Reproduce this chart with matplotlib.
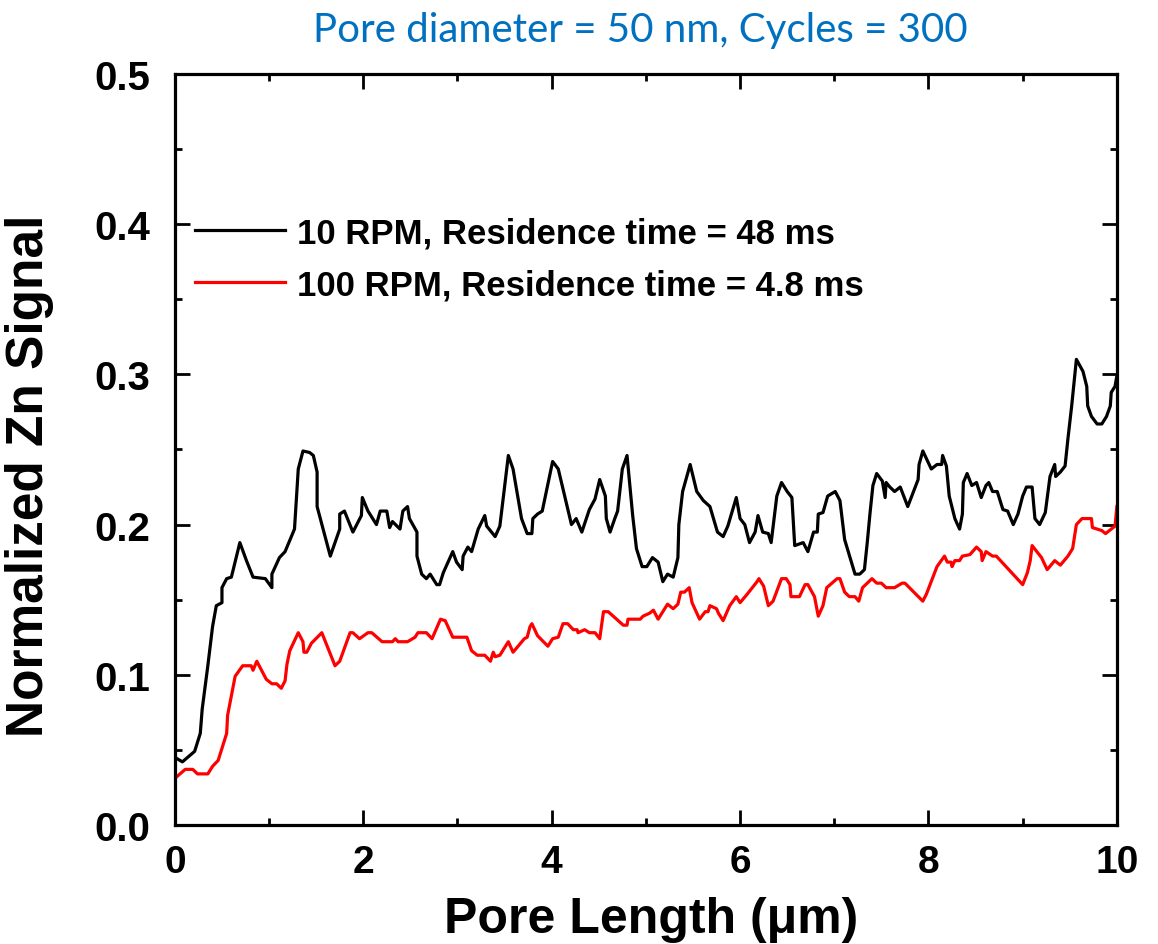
import matplotlib
matplotlib.use("Agg")
import matplotlib.pyplot as plt
from matplotlib.ticker import MultipleLocator, FormatStrFormatter

# 10 RPM, residence time 48 ms (black)
x_10rpm = [0.00, 0.08, 0.21, 0.27, 0.29, 0.35, 0.40, 0.44, 0.50, 0.50,
           0.55, 0.60, 0.69, 0.76, 0.83, 0.96, 1.03, 1.03, 1.11, 1.17,
           1.27, 1.31, 1.36, 1.43, 1.47, 1.51, 1.51, 1.65, 1.75, 1.75,
           1.80, 1.89, 1.98, 1.99, 2.05, 2.14, 2.18, 2.25, 2.28, 2.31,
           2.39, 2.42, 2.47, 2.49, 2.57, 2.57, 2.62, 2.67, 2.71, 2.78,
           2.81, 2.85, 2.95, 2.99, 3.05, 3.06, 3.11, 3.15, 3.22, 3.29,
           3.31, 3.40, 3.45, 3.54, 3.59, 3.68, 3.74, 3.79, 3.80, 3.85,
           3.90, 4.01, 4.07, 4.21, 4.26, 4.32, 4.40, 4.46, 4.51, 4.57,
           4.58, 4.62, 4.67, 4.70, 4.75, 4.80, 4.86, 4.90, 4.96, 5.01,
           5.07, 5.13, 5.18, 5.23, 5.29, 5.34, 5.35, 5.39, 5.47, 5.54,
           5.61, 5.68, 5.76, 5.82, 5.87, 5.96, 6.00, 6.05, 6.10, 6.16,
           6.19, 6.24, 6.30, 6.33, 6.39, 6.44, 6.50, 6.55, 6.58, 6.67,
           6.72, 6.78, 6.82, 6.83, 6.88, 6.93, 7.01, 7.06, 7.11, 7.22,
           7.27, 7.32, 7.35, 7.38, 7.41, 7.45, 7.51, 7.54, 7.55, 7.59,
           7.64, 7.70, 7.78, 7.89, 7.90, 7.94, 8.03, 8.09, 8.14, 8.15,
           8.19, 8.22, 8.28, 8.33, 8.36, 8.37, 8.41, 8.46, 8.51, 8.56,
           8.61, 8.64, 8.68, 8.73, 8.79, 8.84, 8.90, 8.95, 9.00, 9.04,
           9.10, 9.13, 9.18, 9.24, 9.29, 9.34, 9.35, 9.40, 9.45, 9.48,
           9.52, 9.57, 9.64, 9.68, 9.69, 9.73, 9.79, 9.84, 9.89, 9.93,
           9.94, 9.98, 10.0]
y_10rpm = [0.045, 0.042, 0.049, 0.061, 0.077, 0.106, 0.132, 0.146, 0.148, 0.158,
           0.164, 0.165, 0.188, 0.176, 0.165, 0.164, 0.158, 0.167, 0.178, 0.182,
           0.197, 0.237, 0.249, 0.248, 0.246, 0.235, 0.212, 0.179, 0.197, 0.207,
           0.209, 0.195, 0.206, 0.218, 0.209, 0.200, 0.209, 0.209, 0.198, 0.202,
           0.197, 0.209, 0.212, 0.204, 0.195, 0.179, 0.167, 0.164, 0.167, 0.160,
           0.160, 0.168, 0.182, 0.175, 0.170, 0.179, 0.185, 0.182, 0.197, 0.206,
           0.199, 0.192, 0.199, 0.246, 0.237, 0.204, 0.194, 0.194, 0.204, 0.207,
           0.209, 0.242, 0.237, 0.200, 0.204, 0.195, 0.210, 0.217, 0.230, 0.219,
           0.204, 0.195, 0.204, 0.209, 0.237, 0.246, 0.206, 0.184, 0.172, 0.172,
           0.178, 0.175, 0.162, 0.167, 0.165, 0.178, 0.200, 0.222, 0.240, 0.222,
           0.216, 0.212, 0.195, 0.192, 0.199, 0.218, 0.204, 0.200, 0.188, 0.195,
           0.206, 0.195, 0.194, 0.188, 0.219, 0.228, 0.222, 0.218, 0.186, 0.188,
           0.182, 0.195, 0.195, 0.207, 0.208, 0.219, 0.222, 0.216, 0.190, 0.167,
           0.167, 0.170, 0.188, 0.208, 0.226, 0.234, 0.229, 0.218, 0.228, 0.225,
           0.222, 0.225, 0.212, 0.230, 0.240, 0.249, 0.237, 0.240, 0.240, 0.246,
           0.239, 0.219, 0.204, 0.197, 0.207, 0.228, 0.234, 0.226, 0.228, 0.218,
           0.226, 0.228, 0.222, 0.222, 0.210, 0.209, 0.200, 0.207, 0.219, 0.225,
           0.225, 0.204, 0.200, 0.208, 0.232, 0.240, 0.232, 0.235, 0.239, 0.257,
           0.279, 0.310, 0.302, 0.292, 0.279, 0.272, 0.267, 0.267, 0.272, 0.279,
           0.288, 0.292, 0.299]

# 100 RPM, residence time 4.8 ms (red)
x_100rpm = [0.00, 0.00, 0.11, 0.19, 0.24, 0.35, 0.40, 0.46, 0.55, 0.56,
            0.64, 0.72, 0.81, 0.83, 0.87, 0.97, 1.03, 1.08, 1.13, 1.17,
            1.19, 1.22, 1.31, 1.36, 1.37, 1.40, 1.45, 1.56, 1.70, 1.75,
            1.86, 1.89, 1.96, 2.05, 2.09, 2.20, 2.31, 2.34, 2.37, 2.47,
            2.55, 2.58, 2.67, 2.73, 2.82, 2.87, 2.95, 3.10, 3.15, 3.21,
            3.29, 3.35, 3.38, 3.40, 3.45, 3.52, 3.54, 3.59, 3.71, 3.74,
            3.77, 3.79, 3.85, 3.96, 4.01, 4.07, 4.12, 4.17, 4.23, 4.27,
            4.28, 4.35, 4.40, 4.46, 4.51, 4.55, 4.60, 4.76, 4.80, 4.81,
            4.94, 4.97, 5.04, 5.08, 5.13, 5.17, 5.23, 5.29, 5.34, 5.37,
            5.41, 5.46, 5.49, 5.57, 5.63, 5.66, 5.68, 5.75, 5.77, 5.82,
            5.89, 5.96, 6.00, 6.08, 6.18, 6.20, 6.25, 6.30, 6.35, 6.44,
            6.49, 6.53, 6.54, 6.63, 6.69, 6.72, 6.79, 6.83, 6.88, 6.92,
            7.03, 7.06, 7.11, 7.16, 7.22, 7.26, 7.30, 7.40, 7.45, 7.50,
            7.55, 7.64, 7.72, 7.75, 7.94, 7.98, 8.09, 8.17, 8.20, 8.24,
            8.25, 8.28, 8.33, 8.36, 8.44, 8.51, 8.56, 8.57, 8.61, 8.68,
            8.72, 9.00, 9.05, 9.08, 9.10, 9.15, 9.20, 9.26, 9.34, 9.40,
            9.48, 9.53, 9.57, 9.63, 9.73, 9.74, 9.84, 9.88, 9.98, 10.0]
y_100rpm = [0.023, 0.031, 0.037, 0.037, 0.034, 0.034, 0.039, 0.043, 0.061, 0.073,
            0.099, 0.106, 0.106, 0.103, 0.109, 0.097, 0.094, 0.094, 0.091, 0.096,
            0.107, 0.116, 0.128, 0.122, 0.115, 0.115, 0.121, 0.128, 0.106, 0.109,
            0.128, 0.128, 0.124, 0.128, 0.128, 0.122, 0.122, 0.124, 0.122, 0.122,
            0.125, 0.128, 0.128, 0.124, 0.137, 0.136, 0.125, 0.125, 0.116, 0.113,
            0.113, 0.109, 0.115, 0.112, 0.113, 0.120, 0.122, 0.115, 0.124, 0.125,
            0.132, 0.134, 0.126, 0.119, 0.124, 0.125, 0.134, 0.134, 0.130, 0.130,
            0.128, 0.130, 0.128, 0.128, 0.124, 0.142, 0.142, 0.133, 0.133, 0.137,
            0.137, 0.139, 0.141, 0.143, 0.137, 0.141, 0.147, 0.144, 0.147, 0.155,
            0.155, 0.158, 0.148, 0.137, 0.142, 0.142, 0.146, 0.144, 0.141, 0.136,
            0.146, 0.152, 0.148, 0.154, 0.162, 0.164, 0.159, 0.146, 0.149, 0.164,
            0.164, 0.160, 0.152, 0.152, 0.160, 0.160, 0.152, 0.139, 0.146, 0.158,
            0.164, 0.164, 0.155, 0.152, 0.152, 0.149, 0.158, 0.164, 0.161, 0.161,
            0.158, 0.158, 0.161, 0.161, 0.149, 0.154, 0.172, 0.179, 0.175, 0.175,
            0.172, 0.176, 0.176, 0.179, 0.180, 0.185, 0.182, 0.176, 0.182, 0.179,
            0.179, 0.160, 0.168, 0.176, 0.186, 0.182, 0.178, 0.170, 0.176, 0.173,
            0.179, 0.184, 0.200, 0.204, 0.204, 0.198, 0.196, 0.194, 0.199, 0.212]

labels = ["10 RPM, Residence time = 48 ms", "100 RPM, Residence time = 4.8 ms"]
title = "Pore diameter = 50 nm, Cycles = 300"

plt.rcParams['font.family'] = ['Liberation Sans', 'DejaVu Sans']
plt.rcParams['font.weight'] = 'bold'

fig = plt.figure(figsize=(11.58, 9.45), dpi=100)
ax = fig.add_axes([0.151, 0.126, 0.8135, 0.7946])

ax.plot(x_10rpm, y_10rpm, color='black', lw=2.3, label=labels[0])
ax.plot(x_100rpm, y_100rpm, color='red', lw=2.3, label=labels[1])

ax.set_xlim(0, 10)
ax.set_ylim(0, 0.5)
ax.xaxis.set_major_locator(MultipleLocator(2))
ax.xaxis.set_minor_locator(MultipleLocator(1))
ax.yaxis.set_major_locator(MultipleLocator(0.1))
ax.yaxis.set_minor_locator(MultipleLocator(0.05))
ax.yaxis.set_major_formatter(FormatStrFormatter('%.1f'))

for s in ax.spines.values():
    s.set_linewidth(2.3)
ax.tick_params(which='both', direction='in', top=True, right=True, width=2.0)
ax.tick_params(which='major', length=11, labelsize=28, pad=14)
ax.tick_params(which='minor', length=5)
ax.tick_params(axis='y', which='major', labelsize=29, pad=18)
for t in ax.get_xticklabels() + ax.get_yticklabels():
    t.set_fontweight('bold')

ax.set_xlabel("Pore Length (\u03bcm)", fontsize=36, fontweight='bold')
ax.set_ylabel("Normalized Zn Signal", fontsize=37, fontweight='bold')
ax.xaxis.set_label_coords(0.506, -0.094)
ax.yaxis.set_label_coords(-0.128, 0.466)

leg = ax.legend(loc='center left', bbox_to_anchor=(0.021, 0.754), frameon=False,
                fontsize=25, handlelength=2.6, handletextpad=0.35,
                labelspacing=0.55, borderaxespad=0, borderpad=0)
for t in leg.get_texts():
    t.set_fontweight('bold')

fig.text(0.553, 0.968, title, ha='center', va='center', fontsize=29,
         color='#0070C0', fontweight='normal', family=['Lato', 'DejaVu Sans'])

fig.savefig("out.png", dpi=100)
